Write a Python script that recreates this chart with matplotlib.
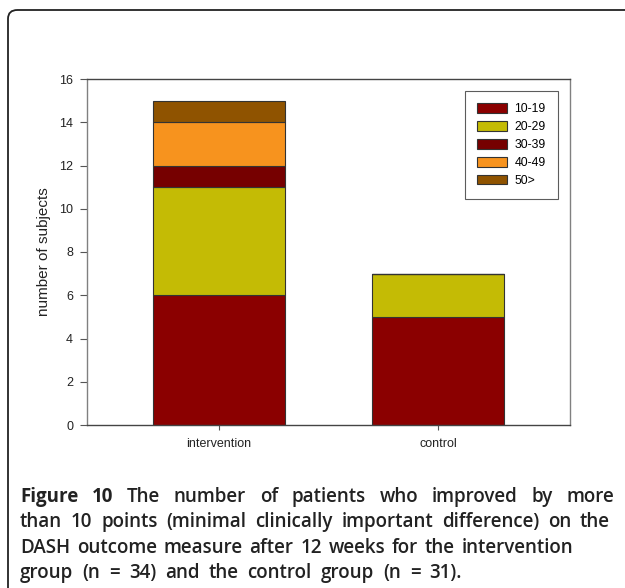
import matplotlib
matplotlib.use("Agg")
import matplotlib.pyplot as plt
from matplotlib.patches import FancyBboxPatch
import numpy as np

# data
groups = ["intervention", "control"]
bands = ["10-19", "20-29", "30-39", "40-49", "50>"]
counts_10_19 = [6, 5]
counts_20_29 = [5, 2]
counts_30_39 = [1, 0]
counts_40_49 = [2, 0]
counts_50_up = [1, 0]
band_colors = ["#8b0000", "#c4bb05", "#760000", "#f7931e", "#8f5300"]

caption_lines = [
    "Figure 10 The number of patients who improved by more",
    "than 10 points (minimal clinically important difference) on the",
    "DASH outcome measure after 12 weeks for the intervention",
    "group (n = 34) and the control group (n = 31).",
]
caption_right = [614, 610, 573, 462]  # right edge of each caption line, px

W, H = 625, 588
fig = plt.figure(figsize=(W / 100, H / 100), dpi=100)

# rounded frame around the figure panel
frame = FancyBboxPatch((8 / W, -0.2), 1.2, 1.2 - 10 / H,
                       boxstyle="round,pad=0,rounding_size=0.015",
                       transform=fig.transFigure, facecolor="white",
                       edgecolor="#222222", linewidth=1.3, zorder=-1)
fig.patches.append(frame)

# axes placement in pixels: x 87..570, y 79..425
ax = fig.add_axes([87 / W, 1 - 425 / H, (570 - 87) / W, (425 - 79) / H])

series = [counts_10_19, counts_20_29, counts_30_39, counts_40_49, counts_50_up]
x = np.arange(len(groups))
bottom = np.zeros(len(groups))
handles = []
for name, vals, col in zip(bands, series, band_colors):
    vals = np.array(vals, dtype=float)
    h = ax.bar(x, vals, width=0.6, bottom=bottom, color=col,
               edgecolor="#333333", linewidth=0.8, label=name)
    handles.append(h)
    bottom += vals

ax.set_xlim(-0.6, 1.6)
ax.set_ylim(0, 16)
ax.set_yticks(range(0, 17, 2))
ax.set_xticks(x)
ax.set_xticklabels(groups)
ax.set_ylabel("number of subjects", fontsize=11, family="Liberation Sans",
              color="#222222", labelpad=6)
for lab in ax.get_xticklabels() + ax.get_yticklabels():
    lab.set_family("Liberation Sans")
    lab.set_fontsize(9)
    lab.set_color("#222222")
ax.tick_params(axis="y", direction="out", length=5, width=0.8, color="#555555", pad=5)
ax.tick_params(axis="x", direction="out", length=3.6, width=0.8, color="#555555", pad=6)
for side in ["left", "right", "top", "bottom"]:
    ax.spines[side].set_color("#808080")
    ax.spines[side].set_linewidth(1.0)
ax.spines["top"].set_color("#444444")
ax.spines["bottom"].set_color("#444444")

leg = ax.legend(handles=handles, labels=bands, loc="upper right",
                bbox_to_anchor=((558 - 87) / 483, (425 - 91) / 346),
                prop={"family": "Liberation Sans", "size": 8.8},
                frameon=True, fancybox=False, edgecolor="#333333",
                handlelength=2.45, handleheight=0.85, handletextpad=0.6,
                labelspacing=0.47, borderpad=1.0, borderaxespad=0)
leg.get_frame().set_linewidth(0.8)

# caption: justified word by word, "Figure 10" in bold
cap_font = "Open Sans"
cap_size = 13.5
renderer = fig.canvas.get_renderer()
x_left = 20
y_first = 497
for i, line in enumerate(caption_lines):
    words = line.split(" ")
    y = 1 - (y_first + i * 25.3) / H
    arts = []
    for j, wd in enumerate(words):
        bold = (i == 0 and j < 2)
        t = fig.text(0, y, wd, fontsize=cap_size, family=cap_font,
                     fontweight="bold" if bold else "semibold",
                     va="center", ha="left", color="#222222")
        arts.append(t)
    widths = [a.get_window_extent(renderer=renderer).width for a in arts]
    gap = (caption_right[i] - x_left - sum(widths)) / (len(words) - 1)
    xpos = x_left
    for a, w in zip(arts, widths):
        a.set_x(xpos / W)
        xpos += w + gap

fig.savefig("out.png", dpi=100)
